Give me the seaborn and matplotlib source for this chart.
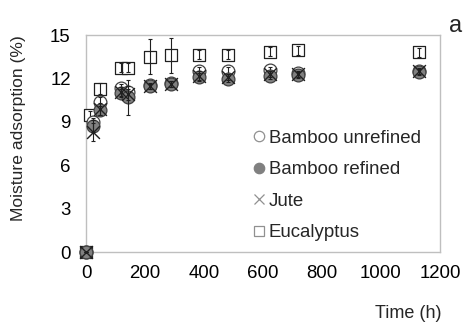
import matplotlib
matplotlib.use("Agg")
import matplotlib.pyplot as plt
from matplotlib.lines import Line2D
import seaborn as sns
import pandas as pd

# ---- data ----
time_h = [0, 24, 48, 120, 144, 216, 288, 384, 480, 624, 720, 1128]
time_euc = [0, 15, 48, 120, 144, 216, 288, 384, 480, 624, 720, 1128]
bamboo_unrefined = [0, 9.0, 10.4, 11.35, 11.1, 11.55, 11.7, 12.5, 12.5, 12.6, 12.35, 12.5]
bamboo_refined = [0, 8.7, 9.8, 11.0, 10.7, 11.45, 11.6, 12.1, 11.95, 12.15, 12.25, 12.45]
jute = [0, 8.3, 9.9, 11.1, 10.9, 11.5, 11.6, 12.2, 12.1, 12.3, 12.3, 12.5]
eucalyptus = [0, 9.45, 11.3, 12.75, 12.75, 13.5, 13.6, 13.65, 13.65, 13.85, 13.95, 13.8]
err_unrefined = [0, 0.3, 0.3, 0.3, 0.4, 0.2, 0.2, 0.3, 0.3, 0.2, 0.2, 0.2]
err_refined = [0, 0.4, 0.3, 0.3, 1.2, 0.2, 0.2, 0.3, 0.2, 0.2, 0.2, 0.2]
err_jute = [0, 0.6, 0.4, 0.3, 0.4, 0.2, 0.2, 0.3, 0.2, 0.2, 0.2, 0.2]
err_euc = [0, 0.3, 0.4, 0.3, 0.3, 1.2, 1.2, 0.3, 0.3, 0.3, 0.3, 0.3]
labels = ["Bamboo unrefined", "Bamboo refined", "Jute", "Eucalyptus"]
x_ticks = [0, 200, 400, 600, 800, 1000, 1200]
y_ticks = [0, 3, 6, 9, 12, 15]

sns.set_theme(style="white")
plt.rcParams["font.family"] = ["Liberation Sans", "DejaVu Sans"]

fig = plt.figure(figsize=(4.65, 3.22), dpi=100)
ax = fig.add_axes([0.185, 0.217, 0.761, 0.674])

# drawing order: eucalyptus first (behind), then bamboo and jute
series = [
    (time_euc, eucalyptus, err_euc, dict(marker="s", color="white", edgecolor="#202020", linewidth=0.9)),
    (time_h, bamboo_unrefined, err_unrefined, dict(marker="o", color="white", edgecolor="#404040", linewidth=0.9)),
    (time_h, bamboo_refined, err_refined, dict(marker="o", color="#808080", edgecolor="#404040", linewidth=0.9)),
    (time_h, jute, err_jute, dict(marker="x", color="#202020", linewidth=1.0)),
]

z = 3
for t, v, e, kw in series:
    df = pd.DataFrame({"t": t, "v": v})
    sns.scatterplot(data=df, x="t", y="v", ax=ax, s=85, zorder=z,
                    clip_on=False, legend=False, **kw)
    ax.errorbar(t, v, yerr=e, fmt="none", ecolor="#202020", elinewidth=0.8,
                capsize=1.5, capthick=0.8, zorder=z + 0.5, clip_on=False)
    z += 1

ax.set_xlim(0, 1200)
ax.set_ylim(0, 15)
ax.set_xticks(x_ticks)
ax.set_yticks(y_ticks)
ax.tick_params(axis="both", length=0, labelsize=13.4, colors="black")
ax.tick_params(axis="x", pad=9)
ax.tick_params(axis="y", pad=11)
for sp in ax.spines.values():
    sp.set_color("#bfbfbf")
    sp.set_linewidth(1.0)
ax.set_xlabel("")
ax.set_ylabel("")
fig.text(18 / 465, 1 - 128 / 322, "Moisture adsorption (%)", fontsize=12.6,
         rotation=90, ha="center", va="center")
fig.text(408 / 465, 1 - 313 / 322, "Time (h)", fontsize=13, ha="center", va="center")
fig.text(456 / 465, 1 - 26 / 322, "a", fontsize=17, ha="center", va="center")

handles = [
    Line2D([], [], ls="none", marker="o", markersize=7.5, markerfacecolor="white", markeredgecolor="#909090", markeredgewidth=0.9),
    Line2D([], [], ls="none", marker="o", markersize=7.5, markerfacecolor="#808080", markeredgecolor="#808080", markeredgewidth=0.9),
    Line2D([], [], ls="none", marker="x", markersize=7.5, color="#909090", markeredgewidth=0.9),
    Line2D([], [], ls="none", marker="s", markersize=7.5, markerfacecolor="white", markeredgecolor="#909090", markeredgewidth=0.9),
]
ax.legend(handles, labels, loc="upper left", bbox_to_anchor=(0.472, 0.565),
          frameon=False, fontsize=13.4, handlelength=0.65, handletextpad=0.2,
          labelspacing=0.78, borderpad=0, borderaxespad=0)

fig.savefig("out.png", dpi=100)
